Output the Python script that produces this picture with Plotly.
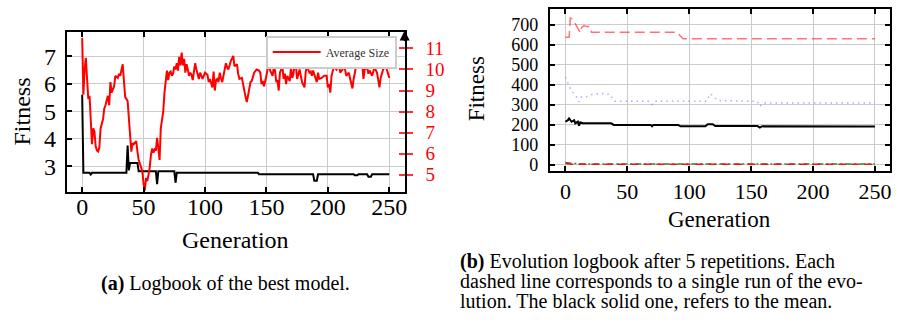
import plotly.graph_objects as go

# ---------------- (a) Logbook of the best model ----------------
size_gen = [0, 1, 2, 3, 4, 5, 6, 7, 8, 9, 10, 11, 12, 13, 14, 15, 17, 18, 19, 20,
            21, 22, 23, 24, 25, 26, 27, 29, 30, 31, 33, 34, 35, 37, 38, 39, 40, 41, 42, 44,
            45, 46, 48, 49, 50, 51, 52, 53, 54, 55, 56, 57, 58, 59, 60, 61, 62, 63, 64, 65,
            66, 67, 68, 69, 70, 71, 72, 73, 74, 75, 76, 77, 78, 79, 80, 81, 82, 83, 84, 85,
            86, 87, 88, 89, 90, 91, 92, 93, 94, 95, 96, 97, 98, 99, 100, 101, 102, 103, 104, 105,
            106, 107, 108, 109, 110, 111, 112, 113, 114, 116, 117, 118, 119, 121, 122, 123, 124, 126, 127, 128,
            130, 131, 132, 133, 134, 135, 137, 138, 140, 142, 144, 145, 146, 147, 148, 150, 152, 153, 155, 156,
            157, 158, 159, 160, 161, 163, 164, 165, 166, 167, 168, 169, 170, 171, 172, 173, 174, 175, 177, 178,
            179, 181, 182, 183, 185, 186, 187, 188, 190, 191, 192, 193, 195, 197, 199, 200, 201, 202, 203, 205,
            207, 209, 210, 212, 213, 215, 217, 219, 220, 221, 223, 224, 225, 227, 228, 229, 230, 232, 233, 234,
            236, 238, 240, 242, 243, 245, 247, 249, 250]
size_val = [11.5, 8.8, 10.0, 10.55, 9.55, 8.6, 8.75, 7.7, 6.45, 7.2, 7.05, 6.35, 6.15, 6.1, 6.3, 7.2, 7.65, 8.15, 8.3, 8.55,
            8.75, 8.3, 9.4, 8.9, 9.05, 9.2, 9.7, 9.6, 9.8, 9.7, 10.25, 9.55, 8.7, 8.5, 7.85, 6.9, 6.1, 6.5, 6.45, 6.6,
            6.1, 5.7, 5.35, 5.15, 4.55, 4.25, 4.85, 4.7, 5.0, 5.35, 5.95, 6.25, 6.05, 6.2, 6.15, 6.75, 6.25, 5.7, 7.2, 7.6,
            8.0, 8.9, 9.4, 9.95, 9.5, 9.85, 9.9, 9.7, 9.8, 10.15, 10.0, 10.3, 9.95, 10.6, 10.2, 10.8, 10.2, 10.5, 9.85, 10.25,
            10.0, 9.7, 9.85, 9.75, 9.5, 9.95, 10.3, 10.0, 9.75, 9.55, 9.85, 9.7, 9.55, 9.7, 9.85, 9.8, 9.75, 9.4, 9.55, 9.35,
            9.15, 9.9, 9.0, 9.5, 9.55, 9.4, 9.85, 9.6, 9.4, 10.0, 10.3, 10.1, 10.0, 10.4, 10.5, 10.65, 10.15, 10.25, 9.8, 9.55,
            9.6, 9.2, 9.0, 8.7, 8.45, 8.75, 9.4, 9.45, 9.85, 10.0, 9.95, 9.85, 9.3, 9.45, 9.2, 9.7, 10.4, 9.95, 9.7, 10.1,
            9.95, 9.4, 9.5, 9.0, 9.85, 10.15, 9.55, 9.8, 9.3, 9.7, 9.6, 9.45, 10.1, 9.6, 9.8, 10.3, 10.15, 9.55, 10.0, 9.7,
            9.4, 9.15, 9.9, 10.15, 9.85, 9.9, 9.7, 9.95, 9.6, 9.4, 9.85, 9.55, 9.6, 9.7, 9.7, 9.15, 9.3, 8.9, 9.7, 10.15,
            10.0, 10.25, 9.85, 10.0, 10.3, 9.7, 9.85, 9.3, 9.1, 9.55, 10.15, 10.45, 10.3, 10.65, 10.25, 9.55, 10.0, 10.1, 9.8, 9.95,
            9.7, 10.1, 9.85, 9.15, 9.6, 10.0, 10.2, 9.8, 9.6]

best_gen = [0, 1, 6, 7, 8, 36, 37, 38, 39, 45, 46, 60, 61, 62, 75, 76, 77, 143, 144,
            188, 189, 191, 192, 221, 222, 224, 225, 232, 233, 235, 236, 250]
best_fit = [5.6, 2.76, 2.76, 2.7, 2.76, 2.76, 3.75, 2.85, 3.12, 3.12, 2.82, 2.82, 2.35, 2.82, 2.82, 2.4, 2.76, 2.76, 2.71,
            2.71, 2.47, 2.47, 2.71, 2.71, 2.67, 2.67, 2.71, 2.71, 2.62, 2.62, 2.71, 2.71]

left_yticks = [3, 4, 5, 6, 7]
right_yticks = [5, 6, 7, 8, 9, 10, 11]
gen_ticks = [0, 50, 100, 150, 200, 250]

# ---------------- (b) Evolution logbook after 5 repetitions ----------------
run_gen = [0, 3, 4, 5, 7, 9, 12, 13, 15, 17, 20, 21, 90, 91, 95, 250]
run_val = [637, 637, 733, 730, 716, 692, 659, 685, 695, 690, 690, 662, 662, 655, 629, 629]

dot_gen = [0, 2, 4, 6, 9, 11, 13, 16, 18, 21, 25, 29, 33, 36, 38, 40, 68, 70, 72,
           114, 117, 119, 123, 155, 157, 160, 250]
dot_val = [437, 404, 379, 362, 338, 313, 338, 338, 340, 349, 352, 356, 352, 352, 330, 316, 316, 300, 316,
           316, 354, 345, 320, 316, 291, 308, 308]

mean_gen = [0, 2, 3, 5, 7, 8, 10, 11, 12, 14, 18, 37, 39, 69, 70, 71, 91, 93, 113,
            115, 119, 121, 155, 157, 159, 165, 166, 250]
mean_val = [214, 222, 231, 214, 222, 206, 215, 194, 211, 207, 206, 206, 198, 198, 191, 198, 198, 191, 191,
            202, 202, 193, 193, 185, 192, 192, 190, 190]

low_green_gen = [0, 3, 8, 15, 250]
low_green_val = [10, 7, 5, 3, 3]
low_red_gen = [0, 5, 250]
low_red_val = [5, 2, 2]

right_fit_ticks = [0, 100, 200, 300, 400, 500, 600, 700]

SERIF = "Liberation Serif"
GRID = "#cccccc"

fig = go.Figure()

# left panel
fig.add_trace(go.Scatter(x=best_gen, y=best_fit, mode="lines", xaxis="x", yaxis="y",
                         line=dict(color="black", width=2), showlegend=False))
fig.add_trace(go.Scatter(x=size_gen, y=size_val, mode="lines", xaxis="x", yaxis="y2",
                         line=dict(color="#ff0000", width=2), name="Average Size"))

# right panel
fig.add_trace(go.Scatter(x=low_green_gen, y=low_green_val, mode="lines", xaxis="x2", yaxis="y4",
                         line=dict(color="#2e8b2e", width=1.5, dash="6px,3px,2px,3px"), showlegend=False))
fig.add_trace(go.Scatter(x=low_red_gen, y=low_red_val, mode="lines", xaxis="x2", yaxis="y4",
                         line=dict(color="#e41a1c", width=1.5, dash="8px,5px"), showlegend=False))
fig.add_trace(go.Scatter(x=run_gen, y=run_val, mode="lines", xaxis="x2", yaxis="y4",
                         line=dict(color="rgba(255,0,0,0.55)", width=1.5, dash="10px,5px"), showlegend=False))
fig.add_trace(go.Scatter(x=dot_gen, y=dot_val, mode="lines", xaxis="x2", yaxis="y4",
                         line=dict(color="rgba(90,90,255,0.5)", width=1.5, dash="1.5px,4px"), showlegend=False))
fig.add_trace(go.Scatter(x=mean_gen, y=mean_val, mode="lines", xaxis="x2", yaxis="y4",
                         line=dict(color="black", width=2), showlegend=False))

tickfont = dict(family=SERIF, size=24, color="black")
tickfont_rx = dict(family=SERIF, size=22, color="black")
tickfont_ry = dict(family=SERIF, size=18, color="black")

common_x = dict(range=[-12.5, 262.5], tickvals=gen_ticks, ticks="inside", ticklen=5, tickwidth=1.5,
                tickcolor="black", showline=True, linecolor="black", linewidth=2, mirror="ticks",
                showgrid=True, gridcolor=GRID, gridwidth=1, zeroline=False)

fig.update_layout(
    width=922, height=320, autosize=False,
    margin=dict(l=0, r=0, t=0, b=0),
    paper_bgcolor="white", plot_bgcolor="white",
    xaxis=dict(domain=[0.0727, 0.4403], anchor="y", tickfont=tickfont, ticklabelstandoff=-7, **common_x),
    yaxis=dict(domain=[0.39375, 0.9], anchor="x", range=[2.08, 7.89], tickvals=left_yticks,
               ticks="inside", ticklen=5, tickwidth=1.5, tickcolor="black", showline=True,
               linecolor="black", linewidth=2, mirror=True, showgrid=True, gridcolor=GRID,
               zeroline=False, tickfont=tickfont, ticklabelstandoff=4),
    yaxis2=dict(overlaying="y", side="right", anchor="x", range=[4.2, 11.8], tickvals=right_yticks,
                ticks="outside", ticklen=6, tickwidth=1.5, tickcolor="#ff3333", showline=True,
                linecolor="black", linewidth=2, showgrid=False, zeroline=False,
                tickfont=dict(family=SERIF, size=19, color="#ff0000"), ticklabelstandoff=9),
    yaxis3=dict(overlaying="y", side="right", anchor="x", range=[4.2, 11.8], tickvals=right_yticks,
                ticks="inside", ticklen=6, tickwidth=1.5, tickcolor="#ff3333", showline=False,
                showgrid=False, zeroline=False, showticklabels=False),
    xaxis2=dict(domain=[0.5984, 0.9689], anchor="y4", tickfont=tickfont_rx, ticklabelstandoff=-1, **common_x),
    yaxis4=dict(domain=[0.4584, 0.9709], anchor="x2", range=[-33, 777], tickvals=right_fit_ticks,
                ticks="inside", ticklen=5, tickwidth=1.5, tickcolor="black", showline=True,
                linecolor="black", linewidth=2, mirror="ticks", showgrid=True, gridcolor=GRID,
                zeroline=False, tickfont=tickfont_ry, ticklabelstandoff=6),
    legend=dict(x=398 / 922, y=(320 - 36) / 320, xanchor="right", yanchor="top",
                bordercolor="#cccccc", borderwidth=2, bgcolor="white",
                font=dict(family=SERIF, size=12, color="#333333"),
                itemwidth=48, tracegroupgap=0),
)

# dummy trace so yaxis3 renders its ticks
fig.add_trace(go.Scatter(x=[None], y=[None], xaxis="x", yaxis="y3", showlegend=False))

def txt(text, x, y, size, angle=0, xanchor="center"):
    fig.add_annotation(text=text, x=x / 922, y=(320 - y) / 320, xref="paper", yref="paper",
                       showarrow=False, textangle=angle, xanchor=xanchor, yanchor="middle",
                       font=dict(family=SERIF, size=size, color="black"))

txt("Fitness", 22, 113, 24, angle=-90)
txt("Generation", 236, 243, 24)
txt("Fitness", 478, 90, 23, angle=-90)
txt("Generation", 722, 222, 23)
txt("<b>(a)</b> Logbook of the best model.", 226, 287, 20)
txt("<b>(b)</b> Evolution logbook after 5 repetitions. Each", 459, 265, 20, xanchor="left")
txt("dashed line corresponds to a single run of the evo-", 459, 285, 20, xanchor="left")
txt("lution. The black solid one, refers to the mean.", 459, 305, 20, xanchor="left")

# arrow head on the right axis of panel (a)
fig.add_annotation(x=406 / 922, y=(320 - 31) / 320, xref="paper", yref="paper",
                   ax=0, ay=12, showarrow=True, arrowhead=2, arrowsize=1, arrowwidth=2,
                   arrowcolor="black", text="")

fig.write_html("out.html", config={"displayModeBar": False},
               post_script="document.body.style.margin='0';document.body.style.overflow='hidden';")
